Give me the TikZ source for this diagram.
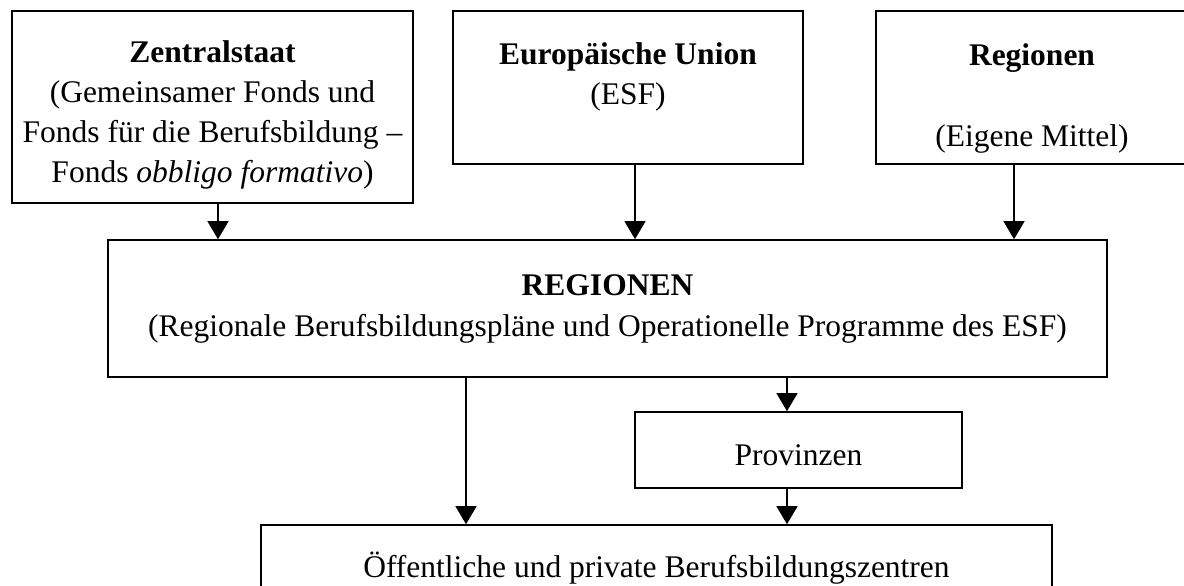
\documentclass[tikz,border=0pt]{standalone}
\usepackage{fontspec}
\setmainfont{Liberation Serif}
\usetikzlibrary{arrows.meta}
\begin{document}
\begin{tikzpicture}[x=1pt,y=-1pt,
  box/.style={draw, line width=1.6pt, inner sep=0pt},
  txt/.style={align=center, inner sep=0pt, font=\fontsize{31.5}{40}\selectfont},
  arr/.style={line width=1.3pt, -{Triangle[width=21pt,length=18pt]}}]
\useasboundingbox (0,0) rectangle (1184,586);
\clip (0,0) rectangle (1184,586);
% boxes
\node[box, minimum width=401pt, minimum height=192pt] (z) at (212.5,107) {};
\node[box, minimum width=350pt, minimum height=153pt] (eu) at (628,87.5) {};
\node[box, minimum width=312pt, minimum height=153pt] (rg) at (1032,87.5) {};
\node[box, minimum width=999pt, minimum height=137pt] (reg) at (607.5,308.5) {};
\node[box, minimum width=327pt, minimum height=76pt] (prov) at (798.5,450) {};
\node[box, minimum width=791pt, minimum height=87pt, txt] (oef) at (656.5,568.5) {Öffentliche und private Berufsbildungszentren};
% texts
\node[txt] (zt) at ([yshift=-8pt]z.center) {\textbf{Zentralstaat}\\(Gemeinsamer Fonds und\\Fonds für die Berufsbildung –\\Fonds \textit{obbligo formativo})};
\node[txt] (eut) at ([yshift=10.5pt]eu.center) {\textbf{Europäische Union}\\(ESF)};
\node[txt] (rgt) at ([yshift=-11pt]rg.center) {\textbf{Regionen}\\[41pt](Eigene Mittel)};
\node[txt] (regt) at (reg.center) {\textbf{REGIONEN}\\[1pt](Regionale Berufsbildungspläne und Operationelle Programme des ESF)};
\node[txt] (provt) at ([yshift=-5pt]prov.center) {Provinzen};
% arrow x positions
\coordinate (a1) at (218,0);
\coordinate (a2) at (635,0);
\coordinate (a3) at (1014,0);
\coordinate (a4) at (466,0);
\coordinate (a5) at (787,0);
% connectors
\draw[arr] (z.south -| a1) -- (reg.north -| a1);
\draw[arr] (eu.south -| a2) -- (reg.north -| a2);
\draw[arr] (rg.south -| a3) -- (reg.north -| a3);
\draw[arr] (reg.south -| a4) -- (oef.north -| a4);
\draw[arr] (reg.south -| a5) -- (prov.north -| a5);
\draw[arr] (prov.south -| a5) -- (oef.north -| a5);
\end{tikzpicture}
\end{document}
